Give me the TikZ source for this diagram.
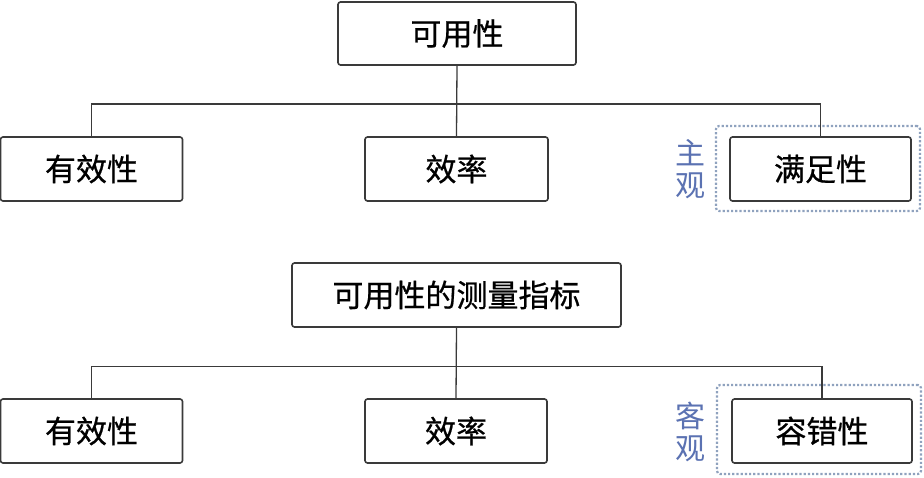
\documentclass[tikz,border=0pt]{standalone}
\usepackage{fontspec}
\newfontfamily\cjk[FakeBold=0.6]{Noto Sans CJK SC}
\newfontfamily\cjklab{Noto Sans CJK SC}
\definecolor{boxline}{HTML}{3A3A3A}
\definecolor{labblue}{HTML}{5B72B2}
\definecolor{dotblue}{HTML}{8FA2BE}
\begin{document}
\begin{tikzpicture}[x=1pt,y=1pt,
  box/.style={draw=boxline,line width=1.6pt,rounded corners=2.5pt,fill=white,
    inner sep=0pt,minimum height=64pt,font=\cjk\fontsize{31}{36}\selectfont},
  conn/.style={draw=boxline,line width=1.3pt},
  dotframe/.style={draw=dotblue,line width=2.2pt,dotted,rounded corners=3pt,inner sep=0pt},
  sidelab/.style={text=labblue,font=\cjklab\fontsize{30}{32}\selectfont,align=center,inner sep=0pt}]
\useasboundingbox (0,0) rectangle (924,477);
% ---------- upper diagram ----------
\node[dotframe,minimum width=204pt,minimum height=85pt] (f1) at (818,308.5) {};
\node[box,minimum width=238pt,minimum height=63pt] (t1) at (457,443.5) {可用性};
\node[box,minimum width=182pt] (a1) at (91.5,308) {有效性};
\node[box,minimum width=183pt] (b1) at (456.5,308) {效率};
\node[box,minimum width=181pt] (c1) at (820.5,308) {满足性};
\node[sidelab] (s1) at (690,308) {主\\观};
\coordinate (h1) at (457,373);
\draw[conn] (a1.north) |- (h1) -| (c1.north);
\draw[conn] (t1.south) -- (b1.north);
% ---------- lower diagram ----------
\node[dotframe,minimum width=204pt,minimum height=89pt] (f2) at (819,47.5) {};
\node[box,minimum width=329pt] (t2) at (456.5,182) {可用性的测量指标};
\node[box,minimum width=182pt] (a2) at (91.5,46) {有效性};
\node[box,minimum width=182pt] (b2) at (456,46) {效率};
\node[box,minimum width=180pt] (c2) at (822,46) {容错性};
\node[sidelab] (s2) at (690,45) {客\\观};
\coordinate (h2) at (457,110.5);
\draw[conn] (a2.north) |- (h2) -| (c2.north);
\draw[conn] (t2.south) -- (b2.north);
\end{tikzpicture}
\end{document}
